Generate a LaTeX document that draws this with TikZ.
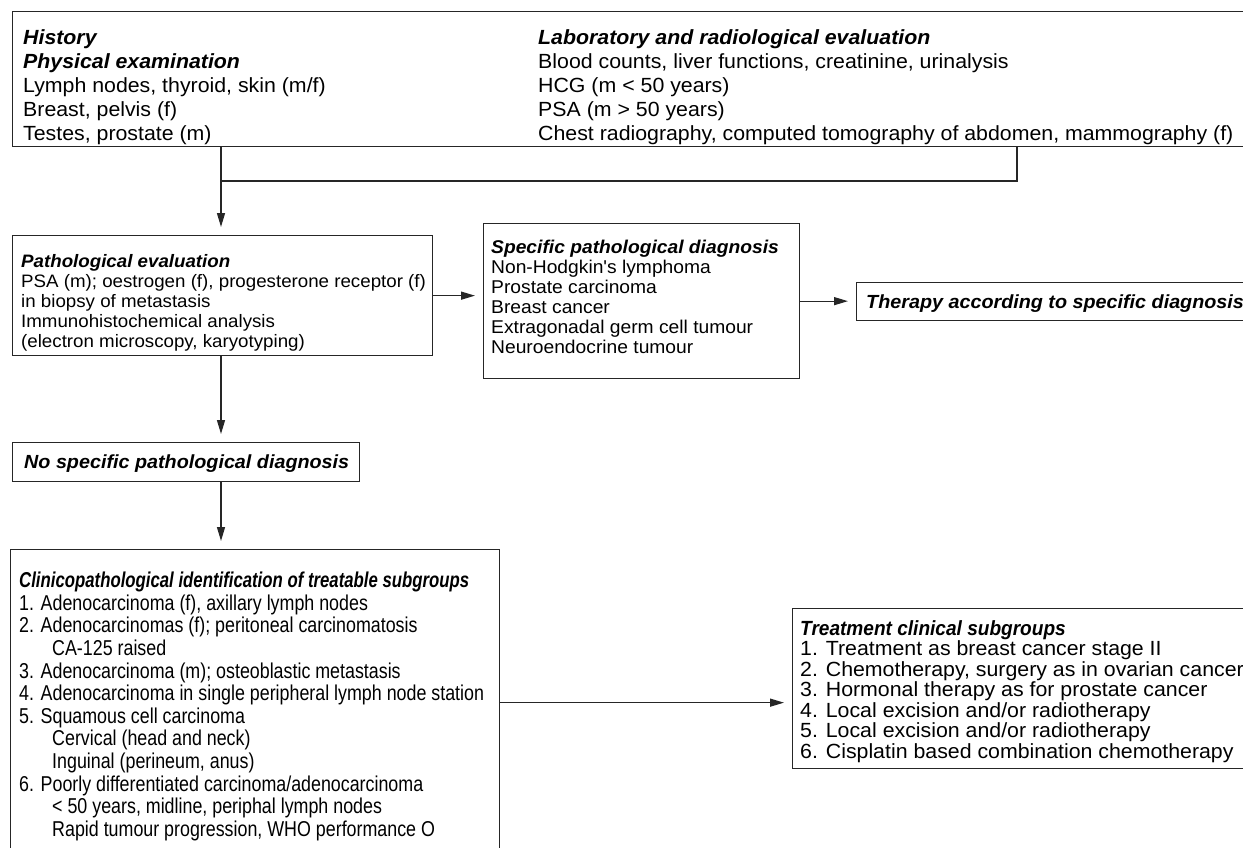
\documentclass[tikz,border=0pt]{standalone}
\usepackage{fontspec}
\setmainfont{Liberation Sans}
\newfontfamily\fA{Liberation Sans}[FakeStretch=1.04]
\newfontfamily\fN{Liberation Sans}[FakeStretch=0.83]
\newfontfamily\fNt{Liberation Sans}[FakeStretch=0.78]
\newfontfamily\fTt{Liberation Sans}[FakeStretch=0.93]
\usetikzlibrary{arrows.meta,calc}
\newcommand{\hd}[1]{\textbf{\textit{#1}}}
\newcommand{\ind}{\hspace*{33pt}}
\begin{document}
\begin{tikzpicture}[x=1pt,y=-1pt,
  box/.style={draw=black!85, line width=1.3pt, rectangle, inner sep=0pt, anchor=north west},
  txt/.style={inner sep=0pt, align=left, anchor=north west},
  ln/.style={line width=1.3pt, draw=black!85},
  arr/.style={line width=1.3pt, draw=black!85, -{Triangle[length=14pt,width=8pt]}, shorten >=8pt}]
\useasboundingbox (0,0) rectangle (1243,848);
\fill[white] (0,0) rectangle (1243,848);
\clip (0,0) rectangle (1243,848);

% boxes
\node[box, minimum width=1260, minimum height=135] (top) at (12,11) {};
\node[box, minimum width=420, minimum height=120] (path) at (12,235) {};
\node[box, minimum width=316, minimum height=155] (spec) at (483,223) {};
\node[box, minimum width=420, minimum height=38] (ther) at (856,282) {};
\node[box, minimum width=347, minimum height=39] (nosp) at (12,442) {};
\node[box, minimum width=489, minimum height=306] (clin) at (10,549) {};
\node[box, minimum width=460, minimum height=160] (treat) at (792,608) {};

% texts
\node[txt, font=\fA\fontsize{20.5}{24}\selectfont] (topL) at (23,29)
  {\hd{History}\\ \hd{Physical examination}\\ Lymph nodes, thyroid, skin (m/f)\\ Breast, pelvis (f)\\ Testes, prostate (m)};
\node[txt, font=\fA\fontsize{20.5}{24}\selectfont] (topR) at (538,29)
  {\hd{Laboratory and radiological evaluation}\\ Blood counts, liver functions, creatinine, urinalysis\\ HCG (m < 50 years)\\ PSA (m > 50 years)\\ Chest radiography, computed tomography of abdomen, mammography (f)};
\node[txt, font=\fA\fontsize{18}{20}\selectfont] (pathT) at (21,254)
  {\hd{Pathological evaluation}\\ PSA (m); oestrogen (f), progesterone receptor (f)\\ in biopsy of metastasis\\ Immunohistochemical analysis\\ (electron microscopy, karyotyping)};
\node[txt, font=\fA\fontsize{18.5}{20}\selectfont] (specT) at (491,240)
  {\hd{Specific pathological diagnosis}\\ Non-Hodgkin's lymphoma\\ Prostate carcinoma\\ Breast cancer\\ Extragonadal germ cell tumour\\ Neuroendocrine tumour};
\node[inner sep=0pt, anchor=base west, font=\fA\fontsize{19}{22}\selectfont] (therT) at (866,308)
  {\hd{Therapy according to specific diagnosis}};
\node[inner sep=0pt, anchor=base west, font=\fA\fontsize{19}{22}\selectfont] (nospT) at (24,468)
  {\hd{No specific pathological diagnosis}};
\node[txt, font=\fN\fontsize{21.5}{22.6}\selectfont] (clinT) at (19,572)
  {{\fNt\hd{Clinicopathological identification of treatable subgroups}}\\
   1. Adenocarcinoma (f), axillary lymph nodes\\
   2. Adenocarcinomas (f); peritoneal carcinomatosis\\
   \ind CA-125 raised\\
   3. Adenocarcinoma (m); osteoblastic metastasis\\
   4. Adenocarcinoma in single peripheral lymph node station\\
   5. Squamous cell carcinoma\\
   \ind Cervical (head and neck)\\
   \ind Inguinal (perineum, anus)\\
   6. Poorly differentiated carcinoma/adenocarcinoma\\
   \ind < 50 years, midline, periphal lymph nodes\\
   \ind Rapid tumour progression, WHO performance O};
\node[txt, font=\fA\fontsize{20.5}{20.5}\selectfont] (treatT) at (800,620)
  {{\fTt\hd{Treatment clinical subgroups}}\\
   1. Treatment as breast cancer stage II\\
   2. Chemotherapy, surgery as in ovarian cancer\\
   3. Hormonal therapy as for prostate cancer\\
   4. Local excision and/or radiotherapy\\
   5. Local excision and/or radiotherapy\\
   6. Cisplatin based combination chemotherapy};

% connectors
\coordinate (j) at (221,181);
\coordinate (jr) at (1017,181);
\draw[ln] (top.south -| jr) -- (jr) -- (j);
\draw[arr] (top.south -| j) -- (path.north -| j);
\draw[arr] (path.east) -- (path.east -| spec.west);
\draw[arr] (spec.east) -- (spec.east -| ther.west);
\draw[arr] (path.south -| j) -- (nosp.north -| j);
\draw[arr] (nosp.south -| j) -- (clin.north -| j);
\draw[arr] (clin.east) -- (clin.east -| treat.west);
\end{tikzpicture}
\end{document}
